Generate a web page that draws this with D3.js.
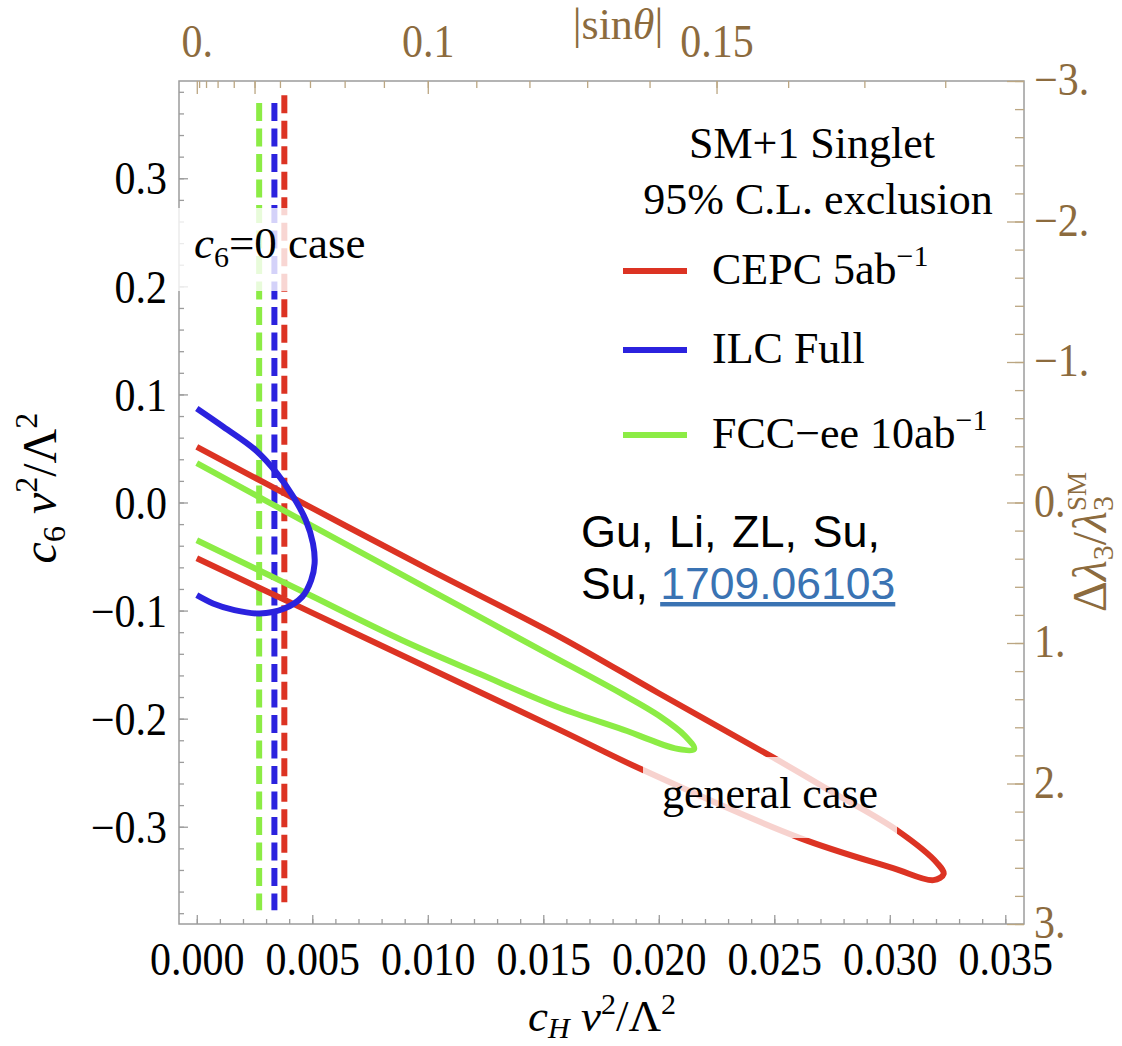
<!DOCTYPE html>
<html><head><meta charset="utf-8">
<script src="https://cdn.jsdelivr.net/npm/d3@7"></script>
<style>
html,body{margin:0;padding:0;background:#fff;}
svg{display:block;font-family:"Liberation Serif","Times New Roman",serif;}
</style></head><body>
<svg id="chart" width="1122" height="1046"></svg>
<script>
// ---------------- data ----------------
const xTickValues = [0, 0.005, 0.010, 0.015, 0.020, 0.025, 0.030, 0.035];
const xTickLabels = ["0.000","0.005","0.010","0.015","0.020","0.025","0.030","0.035"];
const yTickValues = [-0.3, -0.2, -0.1, 0, 0.1, 0.2, 0.3];
const yTickLabels = ["\u22120.3","\u22120.2","\u22120.1","0.0","0.1","0.2","0.3"];
const topTickValues = [0, 0.1, 0.15];          // |sin theta|, c_H = sin^2 theta
const topTickLabels = ["0.","0.1","0.15"];
const rightTickValues = [-3, -2, -1, 0, 1, 2, 3]; // Delta lambda3 / lambda3^SM
const rightTickLabels = ["\u22123.","\u22122.","\u22121.","0.","1.","2.","3."];

const seriesNames  = ["CEPC", "ILC Full", "FCC\u2212ee"];
const seriesColors = ["#dc3323", "#2b22de", "#8cec45"];

// general case 95% C.L. contours: [c_H v^2/Lambda^2, c_6 v^2/Lambda^2]
const cepcContour = [
  [0, 0.0514], [0.0050, -0.0052], [0.0100, -0.0615], [0.01573, -0.1245],
  [0.0200, -0.1765], [0.02495, -0.2359], [0.0276, -0.2690], [0.03032, -0.3034],
  [0.03206, -0.3339], [0.03233, -0.3437], [0.03189, -0.3494], [0.03014, -0.3383],
  [0.02612, -0.3105], [0.01932, -0.2476], [0.01573, -0.2106], [0.0075, -0.1274],
  [0, -0.0516]
];
const ilcContour = [
  [0, 0.0870], [0.00116, 0.0699], [0.00255, 0.0484], [0.00348, 0.0268],
  [0.00418, 0.0052], [0.00472, -0.0164], [0.00503, -0.0379], [0.00510, -0.0564],
  [0.00495, -0.0719], [0.00456, -0.0873], [0.00379, -0.0981], [0.00271, -0.1027],
  [0.00163, -0.0996], [0.00070, -0.0934], [0, -0.0858]
];
const fccContour = [
  [0, 0.0364], [0.00499, -0.0216], [0.01001, -0.0800], [0.01504, -0.1382],
  [0.01833, -0.1762], [0.02006, -0.1980], [0.02114, -0.2160], [0.02153, -0.2282],
  [0.02071, -0.2275], [0.01963, -0.2197], [0.01863, -0.2114], [0.01573, -0.1901],
  [0.01226, -0.1587], [0.00889, -0.1274], [0.00447, -0.0812], [0, -0.0349]
];
// c_6 = 0 case limits (vertical dashed lines): [c_H, c6_top, c6_bottom]
const cepcC6Zero = [0.00379, 0.3768, -0.3698];
const ilcC6Zero  = [0.00336, 0.3697, -0.3772];
const fccC6Zero  = [0.00270, 0.3697, -0.3772];

// ---------------- layout ----------------
const svg = d3.select("#chart");
const frame = {left: 179, right: 1024, top: 81, bottom: 924};
const xDomain = [-0.00077, 0.03581], yDomain = [-0.39, 0.39];
const x = d3.scaleLinear().domain(xDomain).range([frame.left, frame.right]);
const y = d3.scaleLinear().domain(yDomain).range([frame.bottom, frame.top]);
const yR = d3.scaleLinear().domain([-3, 3]).range([frame.top, frame.bottom]);
const xTop = d3.scalePow().exponent(2).domain([0, Math.sqrt(xDomain[1])]).range([x(0), frame.right]);

const gray = "#9c9c9c", brown = "#8c6b3e", brownTick = "#bba682";
const tickFont = 42, stretch = 1.1;

function styleAxis(g, color, tcolor){
  g.select(".domain").remove();
  g.selectAll(".tick line").attr("stroke", tcolor).attr("stroke-width", 1.3);
  g.selectAll(".tick text").attr("fill", color)
    .attr("font-family", '"Liberation Serif","Times New Roman",serif')
    .attr("font-size", tickFont)
    .attr("transform", `scale(1,${stretch})`);
  g.attr("font-family", null).attr("font-size", null);
}

// frame
svg.append("rect").attr("x", frame.left).attr("y", frame.top)
  .attr("width", frame.right - frame.left).attr("height", frame.bottom - frame.top)
  .attr("fill", "none").attr("stroke", gray).attr("stroke-width", 1.5);

// bottom axis
const xMinor = d3.range(0, 0.0355, 0.001);
svg.append("g").attr("transform", `translate(0,${frame.bottom})`)
  .call(d3.axisBottom(x).tickValues(xMinor).tickSize(-5).tickFormat(""))
  .call(g => styleAxis(g, "#000", gray));
svg.append("g").attr("transform", `translate(0,${frame.bottom})`)
  .call(d3.axisBottom(x).tickValues(xTickValues).tickSize(-9).tickPadding(12)
        .tickFormat((d,i) => xTickLabels[i]))
  .call(g => styleAxis(g, "#000", gray))
  .call(g => g.selectAll(".tick text").attr("dy", null).attr("y", 51 / stretch));

// left axis
const yMinor = d3.range(-0.38, 0.381, 0.02);
svg.append("g").attr("transform", `translate(${frame.left},0)`)
  .call(d3.axisLeft(y).tickValues(yMinor).tickSize(-5).tickFormat(""))
  .call(g => styleAxis(g, "#000", gray));
svg.append("g").attr("transform", `translate(${frame.left},0)`)
  .call(d3.axisLeft(y).tickValues(yTickValues).tickSize(-9).tickPadding(12)
        .tickFormat((d,i) => yTickLabels[i]))
  .call(g => styleAxis(g, "#000", gray))
  .call(g => g.selectAll(".tick text").attr("dy", "0.34em"));

// top axis (|sin theta|)
const sMinor = d3.range(0.01, 0.185, 0.01);
svg.append("g").attr("transform", `translate(0,${frame.top})`)
  .call(d3.axisTop(xTop).tickValues(sMinor).tickSize(-7).tickFormat(""))
  .call(g => styleAxis(g, brown, brownTick));
svg.append("g").attr("transform", `translate(0,${frame.top})`)
  .call(d3.axisTop(xTop).tickValues([0, 0.05, 0.1, 0.15]).tickSize(-13).tickPadding(22)
        .tickFormat(d => { const i = topTickValues.indexOf(d); return i < 0 ? "" : topTickLabels[i]; }))
  .call(g => styleAxis(g, brown, brownTick));

// right axis (Delta lambda3 / lambda3^SM)
const rMinor = d3.range(-3, 3.01, 0.2);
svg.append("g").attr("transform", `translate(${frame.right},0)`)
  .call(d3.axisRight(yR).tickValues(rMinor).tickSize(-9).tickFormat(""))
  .call(g => styleAxis(g, brown, brownTick));
svg.append("g").attr("transform", `translate(${frame.right},0)`)
  .call(d3.axisRight(yR).tickValues(rightTickValues).tickSize(-17).tickPadding(10)
        .tickFormat((d,i) => rightTickLabels[i]))
  .call(g => styleAxis(g, brown, brownTick))
  .call(g => g.selectAll(".tick text").attr("dy", "0.3em"));

// dashed c6 = 0 lines
const dashed = [cepcC6Zero, ilcC6Zero, fccC6Zero];
svg.append("g").selectAll("line").data(dashed).join("line")
  .attr("x1", d => x(d[0])).attr("x2", d => x(d[0]))
  .attr("y1", d => y(d[1])).attr("y2", d => y(d[2]))
  .attr("stroke", (d,i) => seriesColors[i]).attr("stroke-width", 6)
  .attr("stroke-dasharray", "18,7.5");

// contours
const line = d3.line().x(d => x(d[0])).y(d => y(d[1])).curve(d3.curveCatmullRom.alpha(0.5));
const contours = [fccContour, cepcContour, ilcContour];
const contourColors = [seriesColors[2], seriesColors[0], seriesColors[1]];
svg.append("g").selectAll("path").data(contours).join("path")
  .attr("d", line).attr("fill", "none")
  .attr("stroke", (d,i) => contourColors[i]).attr("stroke-width", 6)
  .attr("stroke-linejoin", "round");

// label backgrounds (semi-transparent white)
svg.append("rect").attr("x", 168).attr("y", 208).attr("width", 222).attr("height", 83)
  .attr("fill", "#fff").attr("opacity", 0.8);
svg.append("rect").attr("x", 643).attr("y", 757).attr("width", 254).attr("height", 81)
  .attr("fill", "#fff").attr("opacity", 0.78);

// annotation labels
const c6lab = svg.append("text").attr("x", 194).attr("y", 258).attr("font-size", 45);
c6lab.append("tspan").attr("font-style", "italic").text("c");
c6lab.append("tspan").attr("font-size", 30).attr("dy", 9).text("6");
c6lab.append("tspan").attr("dy", -9).text("=0 case");

svg.append("text").attr("x", 770).attr("y", 808).attr("font-size", 44)
  .attr("text-anchor", "middle").text("general case");

// legend
svg.append("text").attr("x", 812).attr("y", 158).attr("font-size", 44)
  .attr("text-anchor", "middle").text("SM+1 Singlet");
svg.append("text").attr("x", 818).attr("y", 214).attr("font-size", 44)
  .attr("text-anchor", "middle").text("95% C.L. exclusion");
const legendRowsY = [271, 350, 435];
const legendSuffix = [" 5ab", "", " 10ab"];
legendRowsY.forEach((ly, i) => {
  svg.append("line").attr("x1", 623).attr("x2", 687).attr("y1", ly).attr("y2", ly)
    .attr("stroke", seriesColors[i]).attr("stroke-width", 6);
  const t = svg.append("text").attr("x", 712).attr("y", ly + 13).attr("font-size", 44);
  t.append("tspan").text(seriesNames[i] + legendSuffix[i]);
  if (legendSuffix[i]) t.append("tspan").attr("font-size", 30).attr("dy", -18).text("\u22121");
});

// citation
svg.append("text").attr("x", 581).attr("y", 547).attr("font-size", 45).attr("word-spacing", 3)
  .attr("font-family", '"Liberation Sans",Arial,sans-serif').text("Gu, Li, ZL, Su,");
const cite = svg.append("text").attr("x", 581).attr("y", 599).attr("font-size", 44.5)
  .attr("font-family", '"Liberation Sans",Arial,sans-serif');
cite.append("tspan").text("Su, ");
cite.append("tspan").attr("fill", "#3a73b3").attr("text-decoration", "underline").text("1709.06103");

// axis titles
const bt = svg.append("text").attr("x", 602).attr("y", 1031).attr("font-size", 45).attr("text-anchor", "middle");
bt.append("tspan").attr("font-style", "italic").text("c");
bt.append("tspan").attr("font-style", "italic").attr("font-size", 30).attr("dy", 7).text("H");
bt.append("tspan").attr("dy", -7).text(" ");
bt.append("tspan").attr("font-style", "italic").text("v");
bt.append("tspan").attr("font-size", 30).attr("dy", -17).text("2");
bt.append("tspan").attr("dy", 17).text("/\u039b");
bt.append("tspan").attr("font-size", 30).attr("dy", -17).text("2");

const lt = svg.append("text").attr("transform", "translate(56,488) rotate(-90)")
  .attr("font-size", 48).attr("text-anchor", "middle");
lt.append("tspan").attr("font-style", "italic").text("c");
lt.append("tspan").attr("font-size", 32).attr("dy", 9).text("6");
lt.append("tspan").attr("dy", -9).text(" ");
lt.append("tspan").attr("font-style", "italic").text("v");
lt.append("tspan").attr("font-size", 32).attr("dy", -19).text("2");
lt.append("tspan").attr("dy", 19).text("/\u039b");
lt.append("tspan").attr("font-size", 32).attr("dy", -19).text("2");

const tt = svg.append("text").attr("x", 618).attr("y", 39).attr("font-size", 44)
  .attr("text-anchor", "middle").attr("fill", brown);
tt.append("tspan").text("|sin");
tt.append("tspan").attr("font-style", "italic").text("\u03b8");
tt.append("tspan").text("|");

const rt = svg.append("text").attr("transform", "translate(1106,542) rotate(-90)")
  .attr("font-size", 48).attr("text-anchor", "middle").attr("fill", brown);
rt.append("tspan").text("\u0394");
rt.append("tspan").attr("font-style", "italic").text("\u03bb");
rt.append("tspan").attr("font-size", 30).attr("dy", 7).text("3");
rt.append("tspan").attr("dy", -7).text("/");
rt.append("tspan").attr("font-style", "italic").text("\u03bb");
rt.append("tspan").attr("font-size", 30).attr("dy", 7).text("3");
rt.append("tspan").attr("font-size", 27).attr("dx", -15).attr("dy", -27).text("SM");
</script>
</body></html>
